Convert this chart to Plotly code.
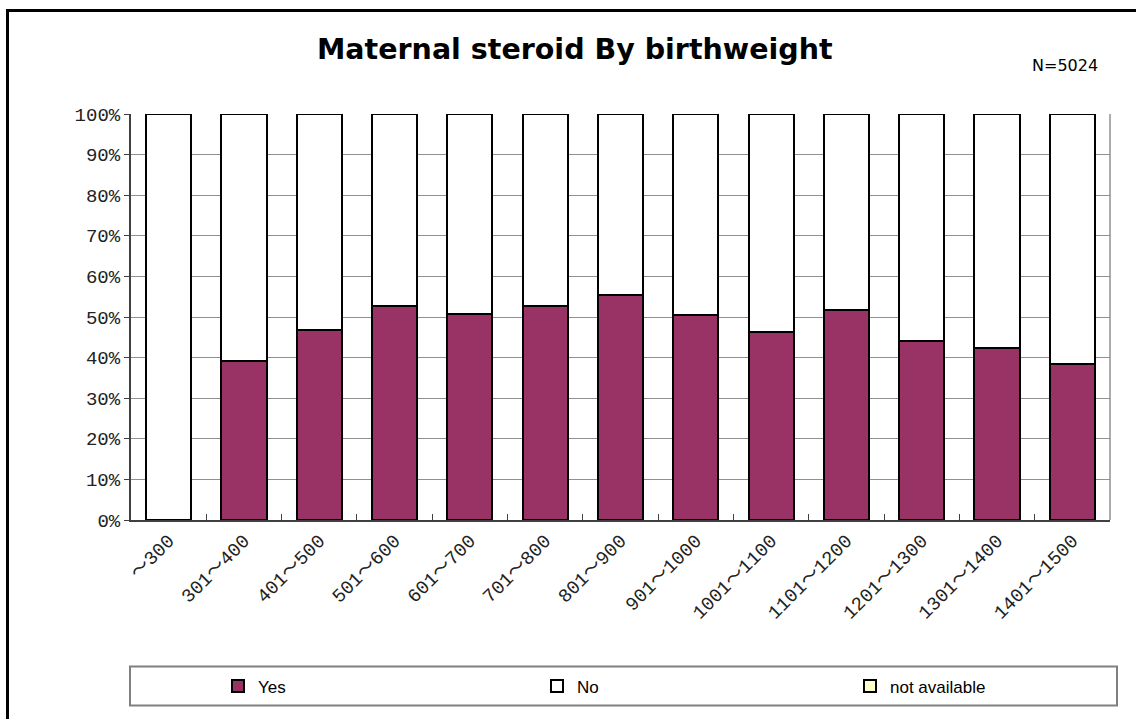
import plotly.graph_objects as go

categories = ["～300", "301～400", "401～500", "501～600", "601～700", "701～800",
              "801～900", "901～1000", "1001～1100", "1101～1200", "1201～1300",
              "1301～1400", "1401～1500"]
yes_pct = [0.0, 39.1, 46.8, 52.6, 50.8, 52.6, 55.3, 50.5, 46.3, 51.8, 44.2, 42.3, 38.5]
na_pct = [0.0] * 13
no_pct = [round(100 - y - n, 1) for y, n in zip(yes_pct, na_pct)]

W, H = 1136, 719
L, R, T, B = 131, 1110, 114, 519.6
pw, ph = R - L, B - T

def px(x):  # screen x -> paper
    return (x - L) / pw

def py(y):  # screen y -> paper
    return (B - y) / ph

line = dict(color="black", width=2)
fig = go.Figure()
fig.add_trace(go.Bar(name="Yes", x=categories, y=[v / 100 for v in yes_pct],
                     marker=dict(color="#993366", line=line), legend="legend"))
fig.add_trace(go.Bar(name="No", x=categories, y=[v / 100 for v in no_pct],
                     marker=dict(color="#FFFFFF", line=line), legend="legend2"))
fig.add_trace(go.Bar(name="not available", x=categories, y=[v / 100 for v in na_pct],
                     marker=dict(color="#FFFFCC", line=line), legend="legend3"))

tickfont = dict(family="Liberation Mono, Noto Sans CJK JP", size=19, color="#222222")
legfont = dict(family="Liberation Sans Narrow, Liberation Sans", size=17, color="black")

def leg(xs):
    return dict(orientation="h", x=px(xs), y=py(686), xanchor="left", yanchor="middle",
                font=legfont, bgcolor="rgba(0,0,0,0)", borderwidth=0)

fig.update_layout(
    width=W, height=H,
    margin=dict(l=L, r=W - R, t=T, b=H - B, pad=0),
    paper_bgcolor="white", plot_bgcolor="white",
    barmode="stack", bargap=0.4,
    showlegend=True,
    legend=leg(218), legend2=leg(537), legend3=leg(850),
    xaxis=dict(type="category", tickangle=-45, tickfont=tickfont,
               showline=True, linecolor="#404040", linewidth=2,
               ticks="inside", tickson="boundaries", ticklen=6, tickcolor="#404040",
               showgrid=False),
    yaxis=dict(range=[0, 1], dtick=0.1, tickformat=".0%", tickfont=tickfont,
               showline=True, linecolor="#404040", linewidth=2,
               ticks="outside", ticklen=5, tickcolor="#404040",
               showgrid=True, gridcolor="#909090", gridwidth=1, zeroline=False),
    annotations=[
        dict(text="<b>Maternal steroid By birthweight</b>", xref="paper", yref="paper",
             x=px(575), y=py(50), xanchor="center", yanchor="middle", showarrow=False,
             font=dict(family="DejaVu Sans", size=28.5, color="black")),
        dict(text="N=5024", xref="paper", yref="paper",
             x=px(1100), y=py(66), xanchor="right", yanchor="middle", showarrow=False,
             font=dict(family="DejaVu Sans", size=16, color="black")),
    ],
    shapes=[
        dict(type="rect", xref="paper", yref="paper", x0=px(7.5), x1=px(1150),
             y0=py(740), y1=py(10.5), line=dict(color="black", width=3)),
        dict(type="line", xref="paper", yref="paper", x0=1, x1=1, y0=0, y1=1,
             line=dict(color="#909090", width=1.5)),
        dict(type="rect", xref="paper", yref="paper", x0=px(130), x1=px(1117),
             y0=py(705), y1=py(666), line=dict(color="#808080", width=2)),
    ],
)

fig.write_html("out.html", config={"displayModeBar": False},
               post_script="document.body.style.margin='0px';")
